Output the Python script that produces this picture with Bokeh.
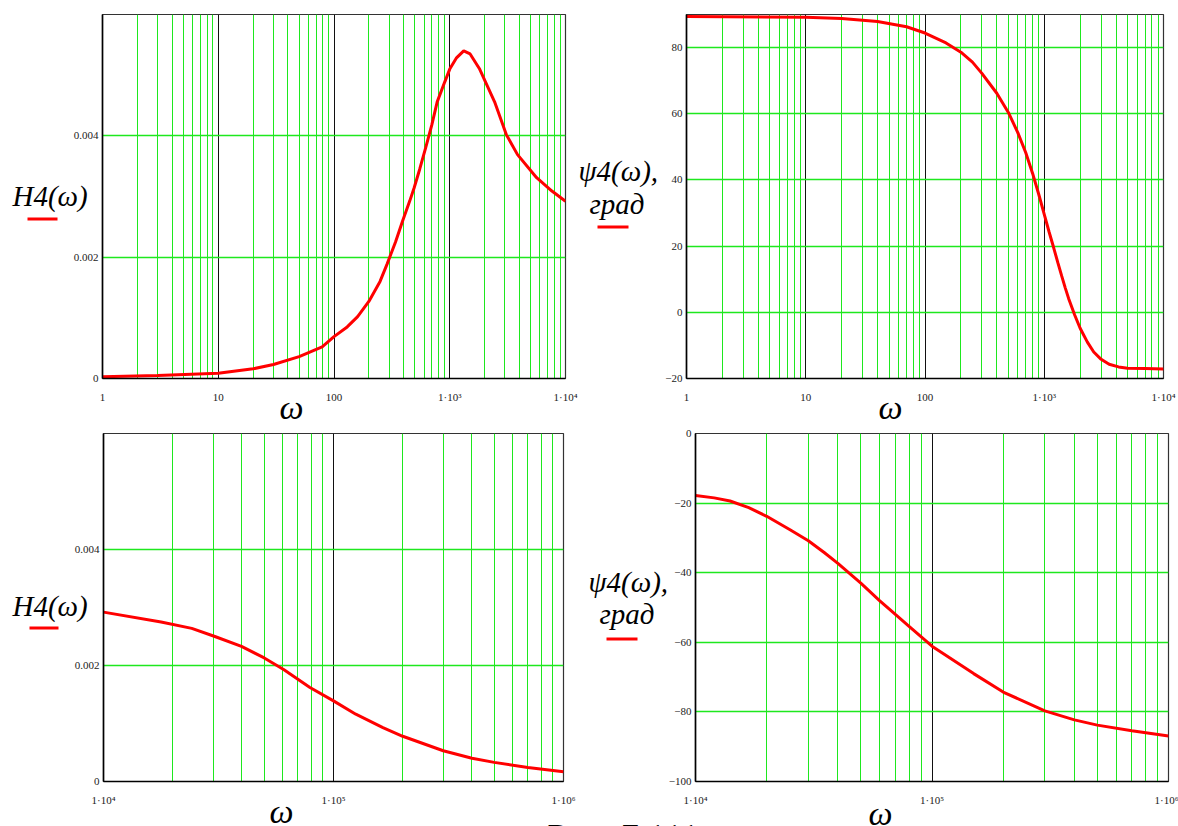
from bokeh.plotting import figure
from bokeh.layouts import column, row
from bokeh.models import FixedTicker, Range1d, GridBox
from bokeh.core.properties import value
from bokeh.embed import file_html
from bokeh.resources import INLINE

# ---------------- data ----------------
# Panel 1: H4(w), low range
w_low = [1, 3, 10, 20, 30, 50, 79, 100, 130, 160, 200, 250, 288, 340, 392, 450,
         492, 550, 619, 700, 779, 906, 1000, 1138, 1320, 1500, 1800, 2440, 3080,
         3850, 5630, 7630, 10000]
h_low = [0.000027, 0.00005, 0.000087, 0.00016, 0.00023, 0.00036, 0.00052, 0.00069,
         0.00085, 0.00102, 0.00127, 0.0016, 0.00189, 0.00225, 0.0026, 0.00292,
         0.00314, 0.00345, 0.0038, 0.00418, 0.00456, 0.00489, 0.0051, 0.00528,
         0.0054, 0.00535, 0.00511, 0.00456, 0.00402, 0.00369, 0.00331, 0.00309,
         0.00292]

# Panel 2: psi4(w), low range, degrees
w_low_p = [1, 10, 20, 40, 70, 100, 150, 200, 250, 300, 400, 500, 600, 700, 800,
           900, 1000, 1100, 1200, 1300, 1400, 1500, 1600, 1800, 2000, 2300, 2600,
           3000, 3500, 4200, 5000, 7000, 10000]
psi_low = [89.4, 89.2, 88.8, 87.9, 86.3, 84.4, 81.4, 78.6, 75.6, 72.2, 66.2, 60.4,
           54.3, 48.2, 41.9, 35.6, 29.6, 24.2, 19.5, 15.0, 11.0, 7.4, 4.2, -0.8,
           -4.8, -9.0, -12.0, -14.2, -15.7, -16.5, -16.9, -17.0, -17.1]

# Panel 3: H4(w), high range
w_high = [1e4, 1.78e4, 2.42e4, 3.05e4, 3.98e4, 5e4, 6.07e4, 7.9e4, 1e5, 1.25e5,
          1.64e5, 2e5, 3e5, 4e5, 5e5, 7e5, 1e6]
h_high = [0.00292, 0.00275, 0.00264, 0.0025, 0.00233, 0.00213, 0.00193, 0.00162,
          0.00139, 0.00116, 0.00093, 0.00078, 0.00053, 0.0004, 0.00033, 0.00024,
          0.00017]

# Panel 4: psi4(w), high range, degrees
w_high_p = [1e4, 1.2e4, 1.4e4, 1.68e4, 2e4, 2.5e4, 3e4, 3.5e4, 4e4, 5e4, 6e4, 7e4,
            8e4, 1e5, 1.5e5, 2e5, 3e5, 4e5, 5e5, 7e5, 1e6]
psi_high = [-17.8, -18.5, -19.4, -21.3, -23.8, -27.6, -30.8, -34.2, -37.3, -43.0,
            -48.0, -52.0, -55.4, -61.1, -69.0, -74.3, -79.7, -82.3, -83.8, -85.4,
            -86.9]

# tick values and labels
x_ticks_low = [1, 10, 100, 1000, 10000]
x_labels_low = ["1", "10", "100", "1·10³", "1·10⁴"]
x_ticks_high = [1e4, 1e5, 1e6]
x_labels_high = ["1·10⁴", "1·10⁵", "1·10⁶"]
h_ticks = [0, 0.002, 0.004]
h_labels = ["0", "0.002", "0.004"]
psi_low_ticks = [-20, 0, 20, 40, 60, 80]
psi_low_labels = ["−20", "0", "20", "40", "60", "80"]
psi_high_ticks = [-100, -80, -60, -40, -20, 0]
psi_high_labels = ["−100", "−80", "−60", "−40", "−20", "0"]

# axis-title texts
y_titles = ["H4(ω)", "ψ4(ω),", "град", "H4(ω)", "ψ4(ω),", "град"]
x_title = "ω"
caption = "Рис. 7.111"

SERIF = "Liberation Serif"
GREEN = "#1ee81e"
W, H = 1178, 826
COL = 628
ROW = 420


def make_panel(width, height, borders, xr, yr, xt, xl, yt, yl, xs, ys):
    left, right, top, bottom = borders
    p = figure(width=width, height=height, x_axis_type="log",
               x_range=Range1d(*xr), y_range=Range1d(*yr),
               output_backend="svg", toolbar_location=None,
               min_border_left=left, min_border_right=right,
               min_border_top=top, min_border_bottom=bottom)
    p.background_fill_color = "white"
    p.border_fill_color = "white"
    p.outline_line_color = "#333333"
    p.outline_line_width = 1.2

    lo, hi = xr
    decades = []
    d = lo
    while d < hi:
        decades.append(d)
        d *= 10
    minor = [m * dd for dd in decades for m in range(2, 10)]
    xt_obj = FixedTicker(ticks=xt, minor_ticks=minor)
    p.xaxis.ticker = xt_obj
    p.xgrid.ticker = xt_obj
    p.xaxis.major_label_overrides = {t: s for t, s in zip(xt, xl)}
    yt_obj = FixedTicker(ticks=yt)
    p.yaxis.ticker = yt_obj
    p.ygrid.ticker = yt_obj
    p.yaxis.major_label_overrides = {t: s for t, s in zip(yt, yl)}

    p.xgrid.grid_line_color = "#111111"
    p.xgrid.grid_line_width = 1
    p.xgrid.minor_grid_line_color = GREEN
    p.xgrid.minor_grid_line_width = 1
    p.ygrid.grid_line_color = GREEN
    p.ygrid.grid_line_width = 1.3

    for ax in (p.xaxis[0], p.yaxis[0]):
        ax.axis_line_color = "black"
        ax.axis_line_width = 1.6
        ax.major_tick_line_color = None
        ax.minor_tick_line_color = None
        ax.major_tick_out = 0
        ax.major_tick_in = 0
        ax.minor_tick_out = 0
        ax.major_label_text_font = SERIF
        ax.major_label_text_font_size = "11px"
        ax.major_label_text_color = "#222222"
    p.xaxis.major_label_standoff = 12
    p.yaxis.major_label_standoff = 4

    p.line(xs, ys, line_color="red", line_width=3)
    return p


p1 = make_panel(COL, ROW, (102, 63, 14, 42), (1, 1e4), (0, 0.006),
                x_ticks_low, x_labels_low, h_ticks, h_labels, w_low, h_low)
p2 = make_panel(W - COL, ROW, (58, 15, 13, 40), (1, 1e4), (-20, 90),
                x_ticks_low, x_labels_low, psi_low_ticks, psi_low_labels,
                w_low_p, psi_low)
p3 = make_panel(COL, H - ROW, (103, 65, 13, 45), (1e4, 1e6), (0, 0.006),
                x_ticks_high, x_labels_high, h_ticks, h_labels, w_high, h_high)
p4 = make_panel(W - COL, H - ROW, (67, 10, 13, 43), (1e4, 1e6), (-100, 0),
                x_ticks_high, x_labels_high, psi_high_ticks, psi_high_labels,
                w_high_p, psi_high)

# transparent overlay, in page pixels (y downward), carrying the axis titles
ov = figure(width=W, height=H, x_range=Range1d(0, W), y_range=Range1d(H, 0),
            output_backend="svg", toolbar_location=None,
            x_axis_location=None, y_axis_location=None,
            min_border=0, min_border_left=0, min_border_right=0,
            min_border_top=0, min_border_bottom=0)
ov.grid.visible = False
ov.outline_line_color = None
ov.background_fill_alpha = 0
ov.border_fill_alpha = 0

ov.text(x=[12, 578, 589, 12, 588, 599], y=[195, 170, 203, 605, 581, 613],
        text=y_titles, text_font=value(SERIF), text_font_style="italic",
        text_font_size="29px", text_align="left", text_baseline="alphabetic",
        text_color="black")
ov.text(x=[291, 890, 281, 880], y=[407, 407, 811, 813], text=[x_title] * 4,
        text_font=value(SERIF), text_font_style="italic",
        text_font_size="34px", text_align="center", text_baseline="alphabetic",
        text_color="black")
ov.text(x=[547], y=[836], text=[caption], text_font=value(SERIF),
        text_font_size="36px", text_align="left", text_baseline="alphabetic",
        text_color="black")
# red trace markers under the titles
ov.quad(left=[27, 597, 29, 606], right=[57, 628, 58, 637],
        top=[217, 225, 626, 637], bottom=[220, 228, 629, 640],
        fill_color="red", line_color=None)

panels = column(row(p1, p2), row(p3, p4))
layout = GridBox(children=[(panels, 0, 0), (ov, 0, 0)], spacing=0)
open("out.html", "w").write(file_html(layout, INLINE))
